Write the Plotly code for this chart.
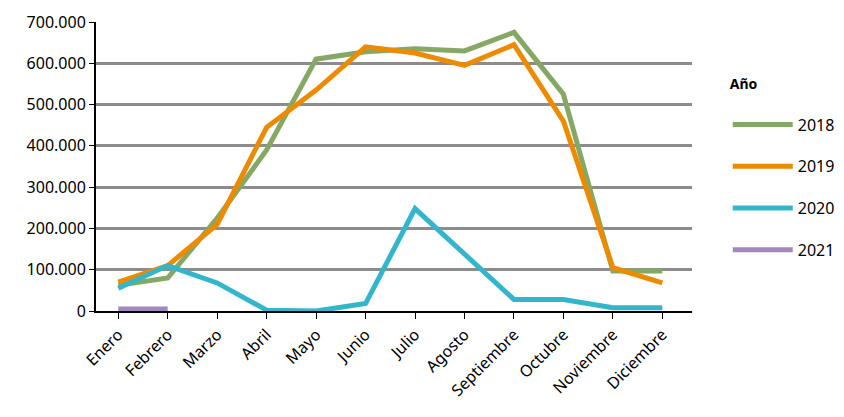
import plotly.graph_objects as go

meses = ["Enero", "Febrero", "Marzo", "Abril", "Mayo", "Junio", "Julio",
         "Agosto", "Septiembre", "Octubre", "Noviembre", "Diciembre"]

v2018 = [62000, 80000, 225000, 390000, 610000, 628000, 635000, 630000, 675000, 525000, 97000, 97000]
v2019 = [70000, 110000, 210000, 445000, 535000, 640000, 625000, 595000, 645000, 460000, 105000, 68000]
v2020 = [55000, 110000, 68000, 2000, 0, 18000, 248000, 140000, 28000, 28000, 8000, 8000]
v2021 = [5000, 5000]

series = [("2018", v2018, "#86a865"), ("2019", v2019, "#ed8b00"),
          ("2020", v2020, "#33b5cb"), ("2021", v2021, "#a487c0")]

fig = go.Figure()
for name, vals, color in series:
    fig.add_trace(go.Scatter(x=meses[:len(vals)], y=vals, name=name, mode="lines",
                             legendgroup=name, line=dict(color=color, width=5)))

fig.update_layout(
    width=844, height=417, margin=dict(l=88, r=134, t=14, b=114),
    plot_bgcolor="white", paper_bgcolor="white",
    font=dict(family="Noto Sans", size=16, color="black"),
    separators=",.",
    showlegend=True,
    legend=dict(title=dict(text="<b>Año</b><br> ", font=dict(size=14)), x=1.06, y=0.83,
                yanchor="top", tracegroupgap=18, itemwidth=60,
                font=dict(size=16)),
    xaxis=dict(tickangle=-45, showline=True, linecolor="black", linewidth=2, automargin=False,
               ticks="outside", ticklen=6, tickcolor="black", range=[-0.45, 11.6]),
    yaxis=dict(range=[0, 700000], dtick=100000, tickformat=",d", showgrid=True, automargin=False,
               gridcolor="#8c8c8c", gridwidth=3, showline=True, linecolor="black",
               linewidth=2, ticks="outside", ticklen=5, tickcolor="black", zeroline=False),
)
fig.write_html("out.html")
